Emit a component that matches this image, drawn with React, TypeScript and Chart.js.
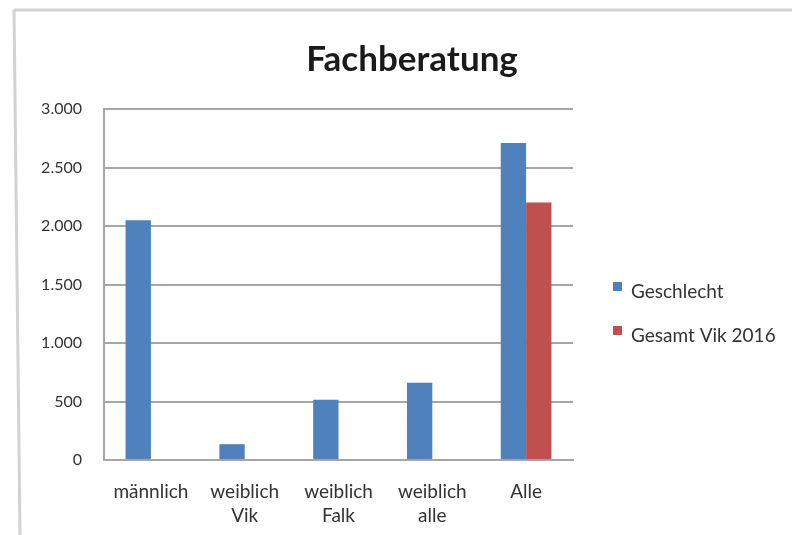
import React, { useEffect, useRef } from 'react';
import { Chart, registerables } from 'chart.js';

Chart.register(...registerables);

const titleText = 'Fachberatung';
const categories: (string | string[])[] = ['männlich', ['weiblich', 'Vik'], ['weiblich', 'Falk'], ['weiblich', 'alle'], 'Alle'];
const seriesNames = ['Geschlecht', 'Gesamt Vik 2016'];
const geschlecht = [2050, 135, 515, 660, 2710];
const gesamtVik2016 = [null, null, null, null, 2200];
const yTickValues = [0, 500, 1000, 1500, 2000, 2500, 3000];
const yTickLabels = ['0', '500', '1.000', '1.500', '2.000', '2.500', '3.000'];

const BLUE = '#4F81BD';
const RED = '#C0504D';
const GRID = '#a6a6a6';
const FONT = 'Lato';

const overlayPlugin = {
  id: 'overlay',
  afterDraw(chart: any) {
    const ctx = chart.ctx as CanvasRenderingContext2D;
    ctx.save();
    ctx.fillStyle = '#1a1a1a';
    ctx.font = `bold 35px ${FONT}`;
    ctx.textAlign = 'center';
    ctx.textBaseline = 'alphabetic';
    ctx.fillText(titleText, 412, 71);
    ctx.font = `19px ${FONT}`;
    ctx.textAlign = 'left';
    chart.data.datasets.forEach((ds: any, i: number) => {
      const y = 282 + i * 44;
      ctx.fillStyle = ds.backgroundColor;
      ctx.fillRect(613, y, 9, 9);
      ctx.fillStyle = '#333333';
      ctx.fillText(ds.label, 631, y + 16);
    });
    ctx.restore();
  },
};

export default function App() {
  const ref = useRef<HTMLCanvasElement | null>(null);

  useEffect(() => {
    if (!ref.current) return;
    const chart = new Chart(ref.current, {
      type: 'bar',
      data: {
        labels: categories,
        datasets: [
          { label: seriesNames[0], data: geschlecht, backgroundColor: BLUE, borderWidth: 0 },
          { label: seriesNames[1], data: gesamtVik2016 as any, backgroundColor: RED, borderWidth: 0 },
        ],
      },
      options: {
        responsive: false,
        animation: false,
        devicePixelRatio: 1,
        layout: { padding: { top: 109, right: 219, bottom: 0, left: 0 } },
        datasets: { bar: { categoryPercentage: 0.54, barPercentage: 1 } },
        plugins: {
          legend: { display: false },
          title: { display: false },
          tooltip: { enabled: false },
        },
        scales: {
          x: {
            afterFit: (s: any) => { s.height = 75; },
            grid: { display: false },
            border: { display: true, color: GRID, width: 2 },
            ticks: {
              color: '#333333',
              font: { family: FONT, size: 19, lineHeight: 24 / 19 },
              padding: 12,
              maxRotation: 0,
              autoSkip: false,
            },
          },
          y: {
            min: 0,
            max: 3000,
            afterFit: (s: any) => { s.width = 104; },
            afterBuildTicks: (s: any) => { s.ticks = yTickValues.map((v) => ({ value: v })); },
            grid: { color: GRID, lineWidth: 2, drawTicks: false },
            border: { display: true, color: GRID, width: 2 },
            ticks: {
              color: '#333333',
              font: { family: FONT, size: 16 },
              padding: 22,
              callback: (v: any) => {
                const i = yTickValues.indexOf(Number(v));
                return i >= 0 ? yTickLabels[i] : '';
              },
            },
          },
        },
      },
      plugins: [overlayPlugin],
    });
    return () => chart.destroy();
  }, []);

  return (
    <div style={{ position: 'absolute', left: 0, top: 0, width: 792, height: 535, background: '#fff', overflow: 'hidden' }}>
      <svg width={792} height={535} style={{ position: 'absolute', left: 0, top: 0 }}>
        <line x1={14} y1={10} x2={792} y2={10} stroke="#d2d2d2" strokeWidth={3} />
        <line x1={14} y1={10} x2={20} y2={535} stroke="#d2d2d2" strokeWidth={3} />
      </svg>
      <canvas ref={ref} width={792} height={535} style={{ position: 'absolute', left: 0, top: 0, width: 792, height: 535 }} />
    </div>
  );
}
